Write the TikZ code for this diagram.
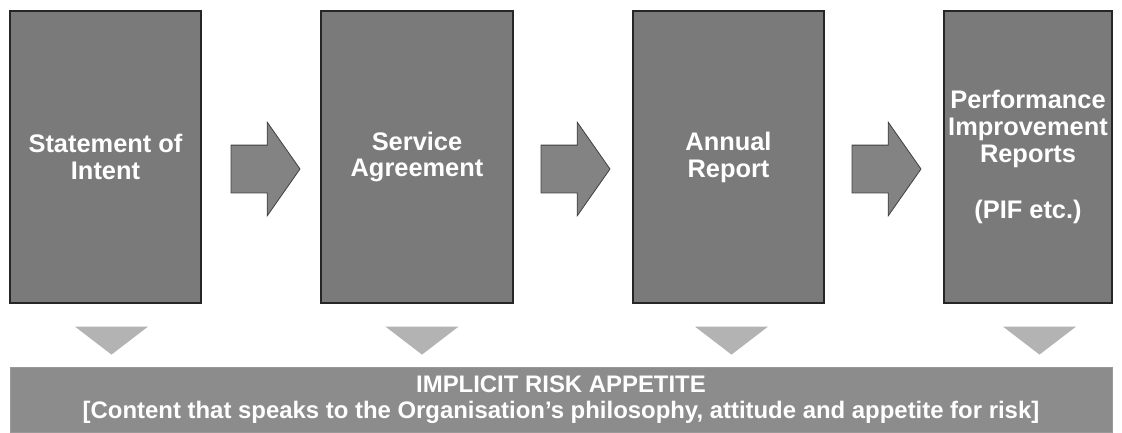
\documentclass[tikz,border=0pt]{standalone}
\usepackage{fontspec}
\setmainfont{Liberation Sans}
\usepackage{tikz}
\usetikzlibrary{calc, shapes.arrows, positioning}
\definecolor{stagegray}{HTML}{7A7A7A}
\definecolor{arrowgray}{HTML}{838383}
\definecolor{bargray}{HTML}{8C8C8C}
\definecolor{markgray}{HTML}{B3B3B3}
\tikzset{
  stagebox/.style={
    rectangle, draw=black!85, line width=1.2bp, fill=stagegray,
    minimum width=191bp, minimum height=292bp, inner sep=0pt,
    align=center, text=white,
    font=\fontsize{25.5}{27}\selectfont\bfseries
  },
  stagearrow/.style={
    single arrow, draw=black!75, line width=0.8bp, fill=arrowgray,
    minimum height=69bp,
    single arrow head extend=23bp, single arrow tip angle=110,
    inner sep=0pt, anchor=tail
  },
  dropmark/.style={fill=markgray},
  appetitebar/.style={
    rectangle, draw=black!40, line width=0.6bp, fill=bargray,
    minimum width=1102bp, minimum height=65bp, inner sep=0pt,
    align=center, text=white,
    font=\fontsize{24}{26}\selectfont\bfseries
  },
}
% shaft of a block arrow
\newcommand{\shaftstrut}{\rule{0pt}{47bp}}

\begin{document}
\begin{tikzpicture}[x=1bp, y=-1bp]
  \useasboundingbox (0,0) rectangle (1122,432);
  % the four documents
  \node[stagebox] (soi) at (105.5,157) {Statement of\\Intent};
  \node[stagebox, minimum width=192bp] (sa) at (417,157) {Service\\Agreement};
  \node[stagebox] (ar) at (728.5,157) {Annual\\Report};
  \node[stagebox, minimum width=168bp] (pir) at (1028,157)
    {Performance\\Improvement\\Reports\\[30bp](PIF etc.)};
  % block arrows between them
  \node[stagearrow] (a1) at ($(soi.east)+(29,12)$) {\shaftstrut};
  \node[stagearrow] (a2) at ($(sa.east)+(27,12)$) {\shaftstrut};
  \node[stagearrow] (a3) at ($(ar.east)+(27,12)$) {\shaftstrut};
  % risk appetite bar
  \node[appetitebar] (risk) at (561,399.5)
    {IMPLICIT RISK APPETITE\\
     {[}Content that speaks to the Organisation’s philosophy,  attitude and appetite for risk{]}};
  % markers pointing down to the bar
  \foreach \s/\dx in {soi/6, sa/5, ar/3, pir/11.5}
    \fill[dropmark] ($(\s.south)+(\dx-36.5,23)$) -- ++(73,0) -- ++(-36.5,28) -- cycle;
\end{tikzpicture}
\end{document}
